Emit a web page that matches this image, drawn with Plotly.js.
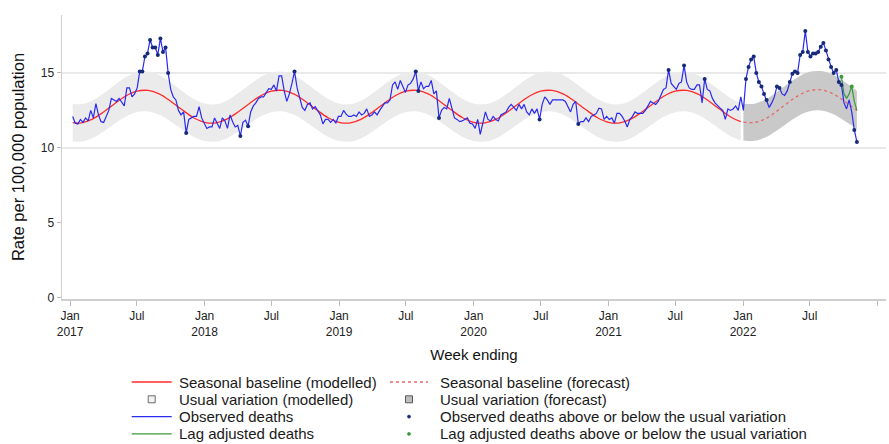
<!DOCTYPE html>
<html><head><meta charset="utf-8">
<script src="https://cdn.plot.ly/plotly-3.0.1.min.js"></script>
<style>html,body{margin:0;padding:0;background:#fff}#chart{width:889px;height:444px}</style>
</head><body><div id="chart"></div>
<script>
// ---- DATA ----
const obsStart = '2017-01-08'; // first week ending, weekly thereafter
const observed = [
 12.1,11.65,11.6,11.9,11.7,12.0,11.8,12.5,12.0,12.95,12.2,11.75,11.7,12.1,12.5,13.3,13.2,13.1,13.3,13.0,12.8,14.0,14.0,13.4,13.6,14.0,15.1,15.1,16.1,16.3,17.2,16.7,16.7,16.2,17.3,16.4,16.7,15.0,13.9,13.4,13.2,12.5,12.2,12.4,11.0,11.9,12.0,12.1,12.1,12.75,12.0,11.6,
 11.3,11.4,11.4,12.0,11.6,11.3,12.0,11.8,11.3,12.2,11.75,11.4,11.5,10.8,11.7,11.85,11.45,12.4,12.8,13.0,13.3,13.4,13.4,13.65,13.95,13.9,14.2,13.8,14.8,14.8,13.8,13.1,13.6,14.3,15.1,14.0,13.4,12.7,12.5,12.9,13.0,12.6,12.75,12.5,12.2,11.6,11.9,11.9,11.7,11.9,11.65,12.1,
 12.1,12.5,12.25,12.1,12.1,12.2,12.1,12.4,12.2,12.3,12.6,12.1,12.2,12.4,12.2,12.5,12.75,13.0,13.0,13.2,14.2,14.4,13.9,14.5,14.1,13.7,14.2,14.3,14.6,15.1,13.8,14.4,13.95,14.1,14.1,14.5,13.6,13.8,12.0,12.5,12.7,12.6,13.3,12.6,12.0,11.9,11.75,11.8,11.9,12.0,11.65,11.6,
 11.3,11.9,10.9,11.6,12.4,11.9,11.8,12.1,11.9,11.8,12.2,12.3,12.4,12.7,12.9,12.7,12.5,12.9,12.6,12.9,12.4,12.2,12.6,12.3,12.6,11.9,12.9,13.4,13.2,12.9,13.2,13.2,13.2,13.2,13.2,13.1,12.8,12.4,12.9,13.1,11.6,11.75,11.75,12.0,11.75,12.1,12.2,12.3,12.65,12.6,11.9,12.1,
 11.9,12.0,11.65,12.3,12.3,12.1,11.8,11.4,11.9,12.1,12.4,12.3,12.3,12.3,12.5,12.8,13.1,13.0,12.9,13.1,13.5,13.9,14.0,15.2,14.3,14.1,13.9,14.3,14.4,15.5,14.4,14.0,13.9,13.9,14.2,14.2,13.0,14.6,13.9,13.8,13.3,13.0,12.8,12.65,12.5,11.9,12.6,12.5,12.6,12.8,12.5,13.4,
 12.5,14.6,15.4,15.9,16.1,15.0,14.4,14.1,13.6,13.2,12.7,13.0,13.4,14.1,14.0,13.6,13.5,13.8,14.4,14.95,15.1,15.0,16.2,16.4,17.8,16.4,16.1,16.3,16.3,16.4,16.75,17.0,16.5,15.9,15.4,15.0,15.2,14.4,14.2,13.0,12.6,13.2,12.4,11.2,10.4
];
// week indices of observed points drawn with a dot (outside usual variation)
const obsFlagged = [26,27,28,29,30,31,32,33,34,35,36,37,44,65,68,86,133,134,142,181,196,231,237,245,
 261,262,263,264,265,266,267,268,269,273,274,278,279,280,281,282,283,284,285,286,287,288,289,290,291,292,293,294,295,296,297,298,303,304];
const lagStartIndex = 298;
const lagAdjusted = [14.75,13.6,13.3,13.6,14.1,13.1,12.5];
const lagFlagged = [298,302];

// modelled baseline: 2017-01-08, then 1st of each month Feb 2017 .. Dec 2021, then 2021-12-26
const baseline = [
 11.68,11.67,11.90,12.38,12.93,13.46,13.78,13.83,13.59,13.11,12.54,12.03,
 11.71,11.67,11.90,12.38,12.93,13.46,13.78,13.83,13.59,13.11,12.54,12.03,
 11.71,11.67,11.90,12.38,12.93,13.46,13.78,13.83,13.59,13.11,12.54,12.03,
 11.71,11.67,11.90,12.38,12.93,13.46,13.78,13.83,13.59,13.11,12.54,12.03,
 11.71,11.67,11.90,12.38,12.93,13.46,13.78,13.83,13.59,13.11,12.54,12.03,
 11.75
];
const baseUpper = [
 12.93,12.92,13.15,13.63,14.18,14.71,15.03,15.08,14.84,14.36,13.79,13.28,
 12.96,12.92,13.15,13.63,14.18,14.71,15.03,15.08,14.84,14.36,13.79,13.28,
 12.96,12.92,13.15,13.63,14.18,14.71,15.03,15.08,14.84,14.36,13.79,13.28,
 12.96,12.92,13.15,13.63,14.18,14.71,15.03,15.08,14.84,14.36,13.79,13.28,
 12.96,12.92,13.15,13.63,14.18,14.71,15.03,15.08,14.84,14.36,13.79,13.28,
 13.00
];
const baseLower = [
 10.43,10.42,10.63,11.08,11.59,12.09,12.38,12.43,12.21,11.76,11.23,10.75,
 10.46,10.42,10.63,11.08,11.59,12.09,12.38,12.43,12.21,11.76,11.23,10.75,
 10.46,10.42,10.63,11.08,11.59,12.09,12.38,12.43,12.21,11.76,11.23,10.75,
 10.46,10.42,10.63,11.08,11.59,12.09,12.38,12.43,12.21,11.76,11.23,10.75,
 10.46,10.42,10.63,11.08,11.59,12.09,12.38,12.43,12.21,11.76,11.23,10.75,
 10.50
];
// forecast: 2022-01-02, 1st of month Feb..Nov 2022, 2022-11-06
const fcDates = ['2022-01-02','2022-02-01','2022-03-01','2022-04-01','2022-05-01','2022-06-01','2022-07-01','2022-08-01','2022-09-01','2022-10-01','2022-11-01','2022-11-06'];
const forecast = [11.72,11.70,11.92,12.42,12.98,13.50,13.82,13.87,13.62,13.15,12.60,12.50];
const fcUpper  = [12.95,12.95,13.20,13.70,14.25,14.75,15.08,15.12,14.90,14.45,13.90,13.78];
const fcLower  = [10.50,10.47,10.68,11.13,11.65,12.15,12.45,12.50,12.28,11.85,11.35,11.25];

const xTickVals = ['2017-01-01','2017-07-01','2018-01-01','2018-07-01','2019-01-01','2019-07-01','2020-01-01','2020-07-01','2021-01-01','2021-07-01','2022-01-01','2022-07-01','2023-01-01'];
const xTickText = ['Jan<br>2017','Jul','Jan<br>2018','Jul','Jan<br>2019','Jul','Jan<br>2020','Jul','Jan<br>2021','Jul','Jan<br>2022','Jul','Jan<br>2023'];
const yTickVals = [0,5,10,15];
const refLines = [10,15];

// ---- derived x positions ----
function iso(d){return d.toISOString().slice(0,10);}
const t0 = new Date(obsStart+'T00:00:00Z');
const obsDates = observed.map((_,i)=>iso(new Date(t0.getTime()+i*7*86400000)));
const baseDates = ['2017-01-08'];
for(let y=2017;y<=2021;y++){for(let m=1;m<=12;m++){ if(y===2017&&m===1) continue; baseDates.push(y+'-'+String(m).padStart(2,'0')+'-01'); }}
baseDates.push('2021-12-26');
const lagDates = obsDates.slice(lagStartIndex, lagStartIndex+lagAdjusted.length);

const COL = {red:'#ff2a2a', redFc:'#e66a6a', blue:'#2b2bf0', navy:'#152a78', green:'#3a9a3a',
             bandM:'#ebebeb', bandF:'#c9c9c9'};

const traces = [
 {x:baseDates,y:baseLower,mode:'lines',line:{width:0,shape:'spline'},showlegend:false,hoverinfo:'skip'},
 {x:baseDates,y:baseUpper,mode:'lines',line:{width:0,shape:'spline'},fill:'tonexty',fillcolor:COL.bandM,showlegend:false,hoverinfo:'skip'},
 {x:fcDates,y:fcLower,mode:'lines',line:{width:0,shape:'spline'},showlegend:false,hoverinfo:'skip'},
 {x:fcDates,y:fcUpper,mode:'lines',line:{width:0,shape:'spline'},fill:'tonexty',fillcolor:COL.bandF,showlegend:false,hoverinfo:'skip'},
 {x:baseDates,y:baseline,mode:'lines',name:'Seasonal baseline (modelled)',line:{color:COL.red,width:1.3,shape:'spline'}},
 {x:fcDates,y:forecast,mode:'lines',name:'Seasonal baseline (forecast)',line:{color:COL.redFc,width:1.3,dash:'dot',shape:'spline'}},
 {x:lagDates,y:lagAdjusted,mode:'lines',name:'Lag adjusted deaths',line:{color:COL.green,width:1.2}},
 {x:obsDates,y:observed,mode:'lines',name:'Observed deaths',line:{color:COL.blue,width:1.2}},
 {x:obsFlagged.map(i=>obsDates[i]),y:obsFlagged.map(i=>observed[i]),mode:'markers',name:'Observed deaths above or below the usual variation',marker:{color:COL.navy,size:4}},
 {x:lagFlagged.map(i=>obsDates[i]),y:lagFlagged.map(i=>lagAdjusted[i-lagStartIndex]),mode:'markers',name:'Lag adjusted deaths above or below the usual variation',marker:{color:COL.green,size:4}}
];

// ---- custom two-column legend (tight row spacing as in the original) ----
const M = {l:62, r:3, t:15, b:145};
const PW = 889 - M.l - M.r, PH = 444 - M.t - M.b;
const px = p => (p - M.l) / PW, py = p => (M.t + PH - p) / PH;
const legendRows = [382, 399.3, 416.6, 433.9];
const legendCols = [{sym0:131.7, sym1:171.7, text:178}, {sym0:390, sym1:428, text:438.5}];
const legendEntries = [
 {label:'Seasonal baseline (modelled)', col:0,row:0, kind:'line', color:COL.red},
 {label:'Seasonal baseline (forecast)', col:1,row:0, kind:'line', color:COL.redFc, dash:'dot'},
 {label:'Usual variation (modelled)', col:0,row:1, kind:'square', fill:'#f2f2f2', edge:'#6a6a6a'},
 {label:'Usual variation (forecast)', col:1,row:1, kind:'square', fill:'#bdbdbd', edge:'#5a5a5a'},
 {label:'Observed deaths', col:0,row:2, kind:'line', color:COL.blue},
 {label:'Observed deaths above or below the usual variation', col:1,row:2, kind:'dot', color:COL.navy},
 {label:'Lag adjusted deaths', col:0,row:3, kind:'line', color:COL.green},
 {label:'Lag adjusted deaths above or below the usual variation', col:1,row:3, kind:'dot', color:COL.green}
];
const legendShapes = [], legendAnn = [];
legendEntries.forEach(e=>{
  const c = legendCols[e.col], yy = legendRows[e.row], cx = (c.sym0 + c.sym1)/2;
  if(e.kind==='line'){
    legendShapes.push({type:'line',xref:'paper',yref:'paper',x0:px(c.sym0),x1:px(c.sym1),y0:py(yy),y1:py(yy),
      line:{color:e.color,width:1.3,dash:e.dash||'solid'}});
  } else if(e.kind==='square'){
    legendShapes.push({type:'rect',xref:'paper',yref:'paper',x0:px(cx-3.5),x1:px(cx+3.5),y0:py(yy+3.5),y1:py(yy-3.5),
      fillcolor:e.fill,line:{color:e.edge,width:1}});
  } else {
    legendShapes.push({type:'circle',xref:'paper',yref:'paper',x0:px(cx-1.6),x1:px(cx+1.6),y0:py(yy+1.6),y1:py(yy-1.6),
      fillcolor:e.color,line:{color:e.color,width:0.5}});
  }
  legendAnn.push({xref:'paper',yref:'paper',x:px(c.text),y:py(yy),xanchor:'left',yanchor:'middle',showarrow:false,
    text:e.label,font:{size:15,color:'#1a1a1a'},borderpad:0});
});

const layout = {
 width:889,height:444,
 margin:M,
 paper_bgcolor:'#fff',plot_bgcolor:'#fff',
 font:{family:'Liberation Sans, Arial, sans-serif',size:12,color:'#222'},
 hovermode:false, showlegend:false,
 xaxis:{type:'date',range:['2016-12-10','2023-01-24'],tickmode:'array',tickvals:xTickVals,ticktext:xTickText,
   ticks:'outside',ticklen:5,tickcolor:'#bbb',tickwidth:1,showgrid:false,showline:true,linecolor:'#cfcfcf',linewidth:1.5,zeroline:false,
   tickfont:{size:12,color:'#222'},title:{text:'Week ending',font:{size:15,color:'#111'},standoff:12}},
 yaxis:{range:[-0.07,18.86],tickmode:'array',tickvals:yTickVals,ticks:'outside',ticklen:4,tickcolor:'#bbb',showgrid:false,
   showline:true,linecolor:'#cfcfcf',linewidth:1.5,zeroline:false,tickfont:{size:12,color:'#222'},
   title:{text:'Rate per 100,000 population',font:{size:16.5,color:'#111'},standoff:12}},
 shapes:refLines.map(v=>({type:'line',xref:'paper',x0:0,x1:1,yref:'y',y0:v,y1:v,line:{color:'#e2e2e2',width:1.5},layer:'below'}))
   .concat(legendShapes),
 annotations:legendAnn
};
Plotly.newPlot('chart',traces,layout,{displayModeBar:false,staticPlot:true});
</script></body></html>
